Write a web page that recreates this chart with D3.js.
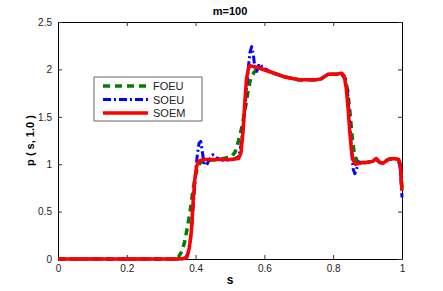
<!DOCTYPE html>
<html>
<head>
<meta charset="utf-8">
<script src="https://cdn.jsdelivr.net/npm/d3@7"></script>
<style>
  body { margin: 0; background: #fff; }
  text { font-family: "Liberation Sans", Arial, Helvetica, sans-serif; }
</style>
</head>
<body>
<svg class="chart" width="443" height="291"></svg>
<script>
const W = 443, H = 291;
const margin = { left: 58, right: 41, top: 22, bottom: 32 };
const width = W - margin.left - margin.right;
const height = H - margin.top - margin.bottom;

// data
const sFOEU = [0, 0.33, 0.35, 0.36, 0.368, 0.376, 0.384, 0.392, 0.398, 0.405, 0.415, 0.43, 0.47, 0.505, 0.515, 0.525, 0.535, 0.545, 0.553, 0.56, 0.57, 0.58, 0.6, 0.62, 0.66, 0.7, 0.75, 0.765, 0.785, 0.81, 0.825, 0.835, 0.842, 0.85, 0.856, 0.862, 0.87, 0.88, 0.9, 0.915, 0.925, 0.935, 0.945, 0.96, 0.975, 0.99, 0.995, 1.0];
const pFOEU = [0, 0, 0.02, 0.08, 0.18, 0.33, 0.5, 0.72, 0.85, 0.97, 1.02, 1.04, 1.05, 1.08, 1.13, 1.25, 1.4, 1.6, 1.78, 1.9, 1.97, 2.01, 2.0, 1.97, 1.92, 1.89, 1.89, 1.9, 1.95, 1.95, 1.95, 1.9, 1.78, 1.5, 1.25, 1.1, 1.03, 1.01, 1.02, 1.03, 1.05, 1.02, 1.01, 1.05, 1.06, 1.05, 0.98, 0.75];

const sSOEU = [0, 0.36, 0.37, 0.378, 0.385, 0.39, 0.395, 0.4, 0.405, 0.41, 0.415, 0.42, 0.425, 0.432, 0.44, 0.45, 0.46, 0.48, 0.51, 0.525, 0.532, 0.54, 0.547, 0.553, 0.558, 0.563, 0.568, 0.573, 0.578, 0.585, 0.595, 0.62, 0.66, 0.7, 0.75, 0.765, 0.785, 0.81, 0.825, 0.835, 0.842, 0.848, 0.853, 0.858, 0.863, 0.868, 0.874, 0.9, 0.915, 0.925, 0.935, 0.945, 0.96, 0.975, 0.99, 0.995, 1.0];
const pSOEU = [0, 0, 0.01, 0.06, 0.2, 0.4, 0.65, 0.9, 1.1, 1.22, 1.24, 1.12, 1.0, 0.99, 1.05, 1.1, 1.07, 1.04, 1.05, 1.08, 1.2, 1.45, 1.75, 2.0, 2.18, 2.24, 2.15, 2.0, 1.98, 2.06, 2.02, 1.97, 1.92, 1.89, 1.89, 1.9, 1.95, 1.95, 1.95, 1.9, 1.75, 1.45, 1.15, 0.95, 0.9, 0.95, 1.02, 1.02, 1.03, 1.06, 1.02, 1.01, 1.05, 1.06, 1.05, 0.95, 0.65];

const sSOEM = [0, 0.35, 0.365, 0.375, 0.382, 0.388, 0.393, 0.398, 0.403, 0.41, 0.42, 0.45, 0.5, 0.525, 0.532, 0.538, 0.543, 0.548, 0.553, 0.558, 0.58, 0.62, 0.66, 0.7, 0.75, 0.765, 0.785, 0.81, 0.825, 0.832, 0.838, 0.843, 0.848, 0.853, 0.858, 0.865, 0.875, 0.9, 0.915, 0.925, 0.935, 0.945, 0.96, 0.975, 0.99, 0.995, 1.0];
const pSOEM = [0, 0, 0.005, 0.02, 0.12, 0.3, 0.62, 0.85, 0.98, 1.03, 1.05, 1.05, 1.05, 1.06, 1.12, 1.35, 1.65, 1.9, 2.0, 2.04, 2.02, 1.97, 1.92, 1.89, 1.89, 1.9, 1.95, 1.95, 1.96, 1.93, 1.8, 1.6, 1.35, 1.15, 1.04, 1.0, 1.01, 1.02, 1.03, 1.06, 1.02, 1.01, 1.05, 1.06, 1.05, 1.0, 0.72];

const xTicks = [0, 0.2, 0.4, 0.6, 0.8, 1];
const yTicks = [0, 0.5, 1, 1.5, 2, 2.5];
const seriesNames = ["FOEU", "SOEU", "SOEM"];

const svg = d3.select(".chart");
svg.append("rect").attr("width", W).attr("height", H).attr("fill", "#fff");

const chart = svg.append("g")
  .attr("transform", `translate(${margin.left}, ${margin.top})`);

const xScale = d3.scaleLinear().domain([0, 1]).range([0, width]);
const yScale = d3.scaleLinear().domain([0, 2.5]).range([height, 0]);

// axes, ticks pointing inward on all four sides
const fmt = d => String(d);
chart.append("g")
  .attr("transform", `translate(0, ${height})`)
  .call(d3.axisBottom(xScale).tickValues(xTicks).tickFormat(fmt).tickSizeInner(-4).tickSizeOuter(0).tickPadding(6));
chart.append("g")
  .call(d3.axisTop(xScale).tickValues(xTicks).tickFormat("").tickSizeInner(-4).tickSizeOuter(0));
chart.append("g")
  .call(d3.axisLeft(yScale).tickValues(yTicks).tickFormat(fmt).tickSizeInner(-4).tickSizeOuter(0).tickPadding(6));
chart.append("g")
  .attr("transform", `translate(${width}, 0)`)
  .call(d3.axisRight(yScale).tickValues(yTicks).tickFormat("").tickSizeInner(-4).tickSizeOuter(0));

chart.selectAll(".tick text").attr("font-size", 10).attr("fill", "#222");
chart.selectAll(".domain").attr("stroke", "#000");
chart.selectAll(".tick line").attr("stroke", "#333");

// lines
const line = d3.line()
  .x(d => xScale(d[0]))
  .y(d => yScale(d[1]));

const series = [
  { name: "FOEU", s: sFOEU, p: pFOEU, color: "#007f00", w: 3.5, dash: "7,5" },
  { name: "SOEU", s: sSOEU, p: pSOEU, color: "#0000ff", w: 3, dash: "8,3,2,3" },
  { name: "SOEM", s: sSOEM, p: pSOEM, color: "#ff0000", w: 3.5, dash: null }
];

series.forEach(sr => {
  chart.append("path")
    .datum(d3.zip(sr.s, sr.p))
    .attr("fill", "none")
    .attr("stroke", sr.color)
    .attr("stroke-width", sr.w)
    .attr("stroke-dasharray", sr.dash)
    .attr("stroke-linejoin", "round")
    .attr("d", line);
});

// legend
const legend = svg.append("g").attr("transform", "translate(94, 77)");
legend.append("rect")
  .attr("width", 108).attr("height", 44)
  .attr("fill", "#fff").attr("stroke", "#666").attr("stroke-width", 1);
series.forEach((sr, i) => {
  const y = 9 + i * 13.5;
  legend.append("line")
    .attr("x1", 9).attr("x2", 54).attr("y1", y).attr("y2", y)
    .attr("stroke", sr.color).attr("stroke-width", sr.w)
    .attr("stroke-dasharray", sr.dash);
  legend.append("text")
    .attr("x", 59).attr("y", y + 4)
    .attr("font-size", 11).attr("fill", "#222")
    .text(seriesNames[i]);
});

// title and axis labels
svg.append("text")
  .attr("x", margin.left + width / 2).attr("y", 15)
  .attr("text-anchor", "middle").attr("font-size", 11).attr("font-weight", "bold")
  .text("m=100");
svg.append("text")
  .attr("x", margin.left + width / 2).attr("y", 284)
  .attr("text-anchor", "middle").attr("font-size", 12).attr("font-weight", "bold")
  .text("s");
svg.append("text")
  .attr("transform", `translate(34, ${margin.top + height / 2}) rotate(-90)`)
  .attr("text-anchor", "middle").attr("font-size", 11).attr("font-weight", "bold")
  .text("p ( s, 1.0 )");
</script>
</body>
</html>
